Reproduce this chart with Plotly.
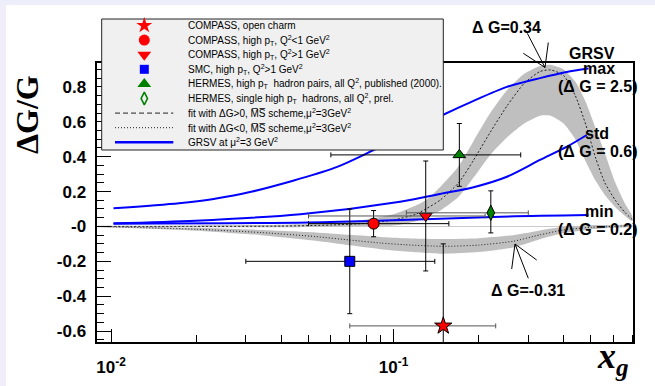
import plotly.graph_objects as go

W, H = 655, 386
FRAME_L, FRAME_R, FRAME_T, FRAME_B = 97.3, 633.3, 63.3, 342.3

X_LOG_RANGE = [-2.0487, -0.1512]
Y_RANGE = [-0.664, 0.935]

# ---------------- data points ----------------
charm_x = [0.150]; charm_y = [-0.57]; charm_err = [0.47]
charm_xlo = [0.070]; charm_xhi = [0.230]

lowq_x = [0.085]; lowq_y = [0.016]; lowq_err = [0.075]
lowq_xlo = [0.050]; lowq_xhi = [0.157]

highq_x = [0.130]; highq_y = [0.06]; highq_err = [0.315]
highq_xlo = [0.050]; highq_xhi = [0.211]

smc_x = [0.070]; smc_y = [-0.20]; smc_err = [0.30]
smc_xlo = [0.030]; smc_xhi = [0.140]

hpairs_x = [0.171]; hpairs_y = [0.41]; hpairs_err = [0.18]
hpairs_xlo = [0.060]; hpairs_xhi = [0.282]

hsingle_x = [0.221]; hsingle_y = [0.078]
hsingle_errp = [0.126]; hsingle_errm = [0.115]
hsingle_xlo = [0.111]; hsingle_xhi = [0.300]

# ---------------- fit curves ----------------
posfit_x = [0.009, 0.02, 0.04, 0.06, 0.08, 0.10, 0.12, 0.13, 0.146, 0.17, 0.192, 0.22,
            0.252, 0.29, 0.33, 0.36, 0.40, 0.44, 0.48, 0.52, 0.56, 0.61, 0.66, 0.70]
posfit_c = [0.0, 0.0, 0.002, 0.008, 0.018, 0.037, 0.07, 0.10, 0.15, 0.25, 0.38, 0.54,
            0.69, 0.82, 0.888, 0.897, 0.865, 0.75, 0.58, 0.39, 0.25, 0.15, 0.08, 0.04]
posfit_hi = [0.004, 0.006, 0.01, 0.02, 0.04, 0.07, 0.12, 0.15, 0.225, 0.345, 0.49, 0.65,
             0.78, 0.875, 0.92, 0.927, 0.90, 0.83, 0.71, 0.56, 0.42, 0.25, 0.13, 0.06]
posfit_lo = [-0.004, -0.005, -0.005, -0.002, 0.003, 0.005, 0.03, 0.056, 0.09, 0.17, 0.28, 0.41,
             0.51, 0.59, 0.635, 0.635, 0.59, 0.50, 0.37, 0.26, 0.18, 0.11, 0.06, 0.03]

negfit_x = [0.009, 0.02, 0.034, 0.053, 0.07, 0.09, 0.11, 0.15, 0.20, 0.265, 0.33, 0.40,
            0.50, 0.60, 0.70]
negfit_c = [0.0, -0.016, -0.035, -0.058, -0.078, -0.095, -0.105, -0.114, -0.107, -0.085,
            -0.048, -0.02, -0.005, 0.0, 0.005]
negfit_hw = [0.003, 0.008, 0.015, 0.024, 0.03, 0.035, 0.038, 0.042, 0.04, 0.035, 0.025,
             0.018, 0.012, 0.008, 0.005]

# ---------------- GRSV curves ----------------
grsv_max_x = [0.0102, 0.0174, 0.0228, 0.0316, 0.0614, 0.085, 0.15, 0.192, 0.252, 0.33, 0.41, 0.49]
grsv_max_y = [0.104, 0.133, 0.156, 0.20, 0.334, 0.438, 0.64, 0.72, 0.80, 0.85, 0.885, 0.905]
grsv_std_x = [0.0102, 0.0199, 0.0468, 0.1055, 0.146, 0.192, 0.252, 0.33, 0.411, 0.483]
grsv_std_y = [0.018, 0.033, 0.07, 0.142, 0.186, 0.225, 0.285, 0.381, 0.457, 0.524]
grsv_min_x = [0.0102, 0.05, 0.10, 0.24, 0.49]
grsv_min_y = [0.016, 0.022, 0.035, 0.056, 0.065]

# ---------------- ticks ----------------
x_tick_vals = [0.01, 0.1]
x_tick_text = ["10<sup>-2</sup>", "10<sup>-1</sup>"]
x_minor_vals = [0.02, 0.03, 0.04, 0.05, 0.06, 0.07, 0.08, 0.09, 0.2, 0.3, 0.4, 0.5, 0.6, 0.7]
y_tick_vals = [-0.6, -0.4, -0.2, 0.0, 0.2, 0.4, 0.6, 0.8]
y_tick_text = ["-0.6", "-0.4", "-0.2", "-0", "0.2", "0.4", "0.6", "0.8"]

# ---------------- legend ----------------
legend_labels = [
    "COMPASS, open charm",
    "COMPASS, high p<sub>T</sub>, Q<sup>2</sup>&lt;1 GeV<sup>2</sup>",
    "COMPASS, high p<sub>T</sub>, Q<sup>2</sup>&gt;1 GeV<sup>2</sup>",
    "SMC, high p<sub>T</sub>, Q<sup>2</sup>&gt;1 GeV<sup>2</sup>",
    "HERMES, high p<sub>T</sub>  hadron pairs, all Q<sup>2</sup>, published (2000).",
    "HERMES, single high p<sub>T</sub>  hadrons, all Q<sup>2</sup>, prel.",
    "fit with \u0394G&gt;0, M\u0305S\u0305 scheme,\u03bc<sup>2</sup>=3GeV<sup>2</sup>",
    "fit with \u0394G&lt;0, M\u0305S\u0305 scheme,\u03bc<sup>2</sup>=3GeV<sup>2</sup>",
    "GRSV at \u03bc<sup>2</sup>=3 GeV<sup>2</sup>",
]

SANS = "Liberation Sans"
SERIF = "Liberation Serif"
BAND = "#bfbfbf"
FITC = "#222222"
BLUE = "#0000ff"
RED = "#ff0000"
GREEN = "#008000"

fig = go.Figure()

def band_polygon(xs, lo, hi):
    return list(xs) + list(xs)[::-1], list(hi) + list(lo)[::-1]

# bands
bx, by = band_polygon(posfit_x, posfit_lo, posfit_hi)
fig.add_trace(go.Scatter(x=bx, y=by, fill="toself", fillcolor=BAND, mode="lines",
                         line=dict(width=0, shape="spline", smoothing=0.6), hoverinfo="skip"))
neg_lo = [c - w for c, w in zip(negfit_c, negfit_hw)]
neg_hi = [c + w for c, w in zip(negfit_c, negfit_hw)]
bx, by = band_polygon(negfit_x, neg_lo, neg_hi)
fig.add_trace(go.Scatter(x=bx, y=by, fill="toself", fillcolor=BAND, mode="lines",
                         line=dict(width=0, shape="spline", smoothing=0.6), hoverinfo="skip"))
# fit centre lines
fig.add_trace(go.Scatter(x=posfit_x, y=posfit_c, mode="lines",
                         line=dict(color=FITC, width=1, dash="2px,2px", shape="spline", smoothing=0.6)))
fig.add_trace(go.Scatter(x=negfit_x, y=negfit_c, mode="lines",
                         line=dict(color=FITC, width=1, dash="1px,2px", shape="spline", smoothing=0.6)))
# GRSV
for gx, gy in [(grsv_max_x, grsv_max_y), (grsv_std_x, grsv_std_y), (grsv_min_x, grsv_min_y)]:
    fig.add_trace(go.Scatter(x=gx, y=gy, mode="lines",
                             line=dict(color=BLUE, width=2, shape="spline", smoothing=0.8)))

def point(x, y, ep, em, xlo, xhi, symbol, color, size, xcolor="black"):
    fig.add_trace(go.Scatter(
        x=x, y=y, mode="markers",
        marker=dict(symbol=symbol, color=color, size=size, line=dict(color="black", width=1)),
        error_y=dict(type="data", array=ep, arrayminus=em, color="black", thickness=1, width=2.5),
        error_x=dict(type="data", array=[h - v for h, v in zip(xhi, x)],
                     arrayminus=[v - l for l, v in zip(xlo, x)], color=xcolor, thickness=1, width=2.5),
    ))

point(smc_x, smc_y, smc_err, smc_err, smc_xlo, smc_xhi, "square", BLUE, 10)
point(lowq_x, lowq_y, lowq_err, lowq_err, lowq_xlo, lowq_xhi, "circle", RED, 11)
point(highq_x, highq_y, highq_err, highq_err, highq_xlo, highq_xhi, "triangle-down", RED, 11, "#555555")
point(hsingle_x, hsingle_y, hsingle_errp, hsingle_errm, hsingle_xlo, hsingle_xhi, "diamond-tall", GREEN, 11, "#555555")
point(hpairs_x, hpairs_y, hpairs_err, hpairs_err, hpairs_xlo, hpairs_xhi, "triangle-up", GREEN, 11)
point(charm_x, charm_y, charm_err, charm_err, charm_xlo, charm_xhi, "star", RED, 13, "#555555")

# ---------------- legend (drawn on a full-canvas pixel overlay) ----------------
LEG_X0, LEG_X1, LEG_Y0, LEG_Y1 = 101.7, 443.3, 19, 150
ROW0, ROW_STEP = 25.5, 14.6
MARK_X, LINE_X0, LINE_X1, TEXT_X = 144.3, 115, 173.3, 186
rows = [ROW0 + ROW_STEP * i for i in range(len(legend_labels))]

shapes = [dict(type="rect", xref="x2", yref="y2", x0=LEG_X0, x1=LEG_X1, y0=LEG_Y0, y1=LEG_Y1,
               fillcolor="#f0f0f0", line=dict(color="#222222", width=1), layer="below")]

legend_symbols = [("star", RED, 12, 0), ("circle", RED, 11, 0), ("triangle-down", RED, 12, 0),
                  ("square", BLUE, 9, 0), ("triangle-up", GREEN, 12, 0), ("diamond-tall-open", GREEN, 9, 1.6)]
for i, (sym, col, sz, lw) in enumerate(legend_symbols):
    fig.add_trace(go.Scatter(x=[MARK_X], y=[rows[i]], xaxis="x2", yaxis="y2", mode="markers",
                             marker=dict(symbol=sym, color=col, size=sz, line=dict(color=col, width=lw))))
legend_lines = [dict(color=FITC, width=1, dash="5px,3px"), dict(color=FITC, width=1, dash="1px,2px"),
                dict(color=BLUE, width=2.5)]
for j, st in enumerate(legend_lines):
    r = rows[6 + j]
    fig.add_trace(go.Scatter(x=[LINE_X0, LINE_X1], y=[r, r], xaxis="x2", yaxis="y2",
                             mode="lines", line=st))

annotations = []
for i, lab in enumerate(legend_labels):
    annotations.append(dict(xref="x2", yref="y2", x=TEXT_X, y=rows[i], text=lab, showarrow=False,
                            xanchor="left", yanchor="middle", font=dict(family=SANS, size=10, color="black")))

# ---------------- in-plot labels ----------------
def label(x, y, text, size=16):
    annotations.append(dict(xref="x2", yref="y2", x=x, y=y, text="<b>" + text + "</b>", showarrow=False,
                            xanchor="center", yanchor="middle",
                            font=dict(family=SANS, size=size, color="black")))

label(506, 27, "\u0394 G=0.34")
label(528, 290, "\u0394 G=-0.31")
label(592, 53, "GRSV")
label(599, 68.5, "max")
label(598, 86, "(\u0394 G = 2.5)")
label(597, 133, "std")
label(598, 151, "(\u0394 G = 0.6)")
label(599, 211, "min")
label(598, 229.5, "(\u0394 G = 0.2)")

# arrows (open heads) pointing at the two fits
arrow_segments = [
    ((527.3, 33.3), (545, 67.5)), ((523.3, 53.3), (545, 67.5)), ((548.3, 42.5), (545, 67.5)),
    ((528.3, 278.3), (515, 244)), ((511.7, 269), (515, 244)), ((536.7, 260), (515, 244)),
]
for (xa, ya), (xb, yb) in arrow_segments:
    shapes.append(dict(type="line", xref="x2", yref="y2", x0=xa, y0=ya, x1=xb, y1=yb,
                       line=dict(color="black", width=1), layer="above"))

# axis titles
annotations.append(dict(xref="x2", yref="y2", x=27, y=115, text="<b>\u0394G/G</b>", textangle=-90,
                        showarrow=False, xanchor="center", yanchor="middle",
                        font=dict(family=SERIF, size=32, color="black")))
annotations.append(dict(xref="x2", yref="y2", x=595, y=358,
                        text="<b><i>x</i></b><sub><b><i>g</i></b></sub>",
                        showarrow=False, xanchor="left", yanchor="middle",
                        font=dict(family=SERIF, size=36, color="black")))

# faint page border strips
shapes.append(dict(type="rect", xref="paper", yref="paper", x0=0, x1=6 / W, y0=0, y1=1,
                   fillcolor="#f1eef9", line=dict(width=0), layer="below"))
shapes.append(dict(type="rect", xref="paper", yref="paper", x0=0, x1=1, y0=1 - 5 / H, y1=1,
                   fillcolor="#eeeefb", line=dict(width=0), layer="below"))

fig.update_layout(
    width=W, height=H, autosize=False,
    margin=dict(l=0, r=0, t=0, b=0),
    paper_bgcolor="white", plot_bgcolor="rgba(0,0,0,0)",
    showlegend=False,
    shapes=shapes, annotations=annotations,
    xaxis=dict(type="log", domain=[FRAME_L / W, FRAME_R / W], range=X_LOG_RANGE, anchor="y",
               showgrid=False, zeroline=False, showline=True, linecolor="black", linewidth=1.5,
               mirror=True, ticks="inside", ticklen=14, tickwidth=1, tickcolor="black",
               tickmode="array", tickvals=x_tick_vals, ticktext=x_tick_text,
               tickfont=dict(family=SANS, size=17, color="black", weight="bold"),
               ticklabelstandoff=9,
               minor=dict(tickmode="array", tickvals=x_minor_vals, ticks="inside", ticklen=8,
                          tickwidth=1, tickcolor="black", showgrid=False)),
    yaxis=dict(domain=[(H - FRAME_B) / H, (H - FRAME_T) / H], range=Y_RANGE, anchor="x",
               showgrid=False, zeroline=True, zerolinecolor="#cccccc", zerolinewidth=1,
               showline=True, linecolor="black", linewidth=1.5,
               mirror=True, ticks="inside", ticklen=14, tickwidth=1, tickcolor="black",
               tickmode="array", tickvals=y_tick_vals, ticktext=y_tick_text,
               tickfont=dict(family=SANS, size=17, color="black", weight="bold"),
               ticklabelstandoff=6,
               minor=dict(dtick=0.05, tick0=0, ticks="inside", ticklen=7, tickwidth=1,
                          tickcolor="black", showgrid=False)),
    xaxis2=dict(domain=[0, 1], range=[0, W], anchor="y2", visible=False, fixedrange=True),
    yaxis2=dict(domain=[0, 1], range=[H, 0], anchor="x2", visible=False, fixedrange=True),
)

fig.write_html("out.html")
